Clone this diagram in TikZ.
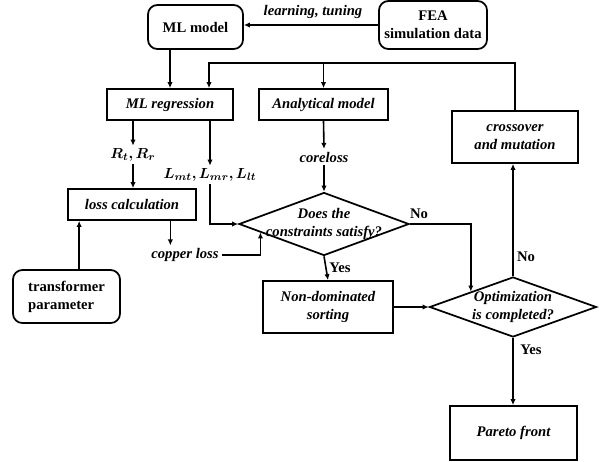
\documentclass[tikz,border=0pt]{standalone}
\usepackage{fontspec}
\setmainfont{Liberation Serif}
\usepackage{amsmath,bm}
\usepackage{tikz}
\usetikzlibrary{positioning, arrows.meta, shapes.geometric, calc}
\newcommand{\figsize}{\fontsize{11}{13.5}\selectfont}
\tikzset{
    box/.style={draw, rectangle, line width=1.3pt, font=\figsize\bfseries\itshape, align=center, inner sep=2pt},
    rbox/.style={box, rounded corners=7pt, font=\figsize\bfseries},
    dia/.style={draw, diamond, line width=1.3pt, inner sep=0pt},
    lbl/.style={font=\figsize\bfseries\itshape, inner sep=2pt},
    ans/.style={font=\figsize\bfseries, inner sep=1pt},
    conn/.style={-, line width=1.2pt},
    arr/.style={conn, -{Latex[length=4.5pt, width=4pt]}},
}

\begin{document}
\begin{tikzpicture}[x=0.75pt, y=-0.75pt]
        \useasboundingbox (0,0) rectangle (602,461);

        \node [rbox, minimum width=71.25pt, minimum height=33pt] (mlm) at (195.5,27) {ML model};
        \node [rbox, minimum width=81pt, minimum height=36pt] (fea) at (433,25) {FEA\\simulation data};
        \node [lbl] (lt) at (313,12) {learning, tuning};

        \node [box, minimum width=94.5pt, minimum height=23.25pt] (mlr) at (170,104.5) {ML regression};
        \node [box, minimum width=96.75pt, minimum height=23.25pt] (ana) at (323.5,104.5) {Analytical model};
        \node [box, minimum width=94.5pt, minimum height=39pt] (cross) at (515,137) {crossover\\and mutation};

        \node [lbl] (rr) at (133,155) {$\bm{R_t, R_r}$};
        \node [lbl] (lm) at (210,175) {$\bm{L_{mt}, L_{mr}, L_{lt}}$};
        \node [lbl] (core) at (324,157) {coreloss};

        \node [box, minimum width=96pt, minimum height=23.25pt] (loss) at (132,204.5) {loss calculation};
        \node [lbl] (cu) at (185,255) {copper loss};
        \node [rbox, align=left, minimum width=80.25pt, minimum height=39.75pt] (trans) at (66.5,296.5) {transformer\\parameter};

        \node [dia, minimum width=127.5pt, minimum height=47.25pt,
            label={[lbl, align=center]center:Does the\\constraints satisfy?}] (d1) at (324,224) {};
        \node [box, minimum width=97.5pt, minimum height=39pt] (nd) at (328,307) {Non-dominated\\sorting};
        \node [dia, minimum width=125.25pt, minimum height=45pt,
            label={[lbl, align=center]center:Optimization\\is completed?}] (d2) at (513,307) {};
        \node [box, minimum width=95.25pt, minimum height=40.5pt] (pf) at (513.5,433) {Pareto front};

        \node [ans] (no1) at (419,214) {No};
        \node [ans] (yes1) at (340,268) {Yes};
        \node [ans] (no2) at (526,257) {No};
        \node [ans] (yes2) at (531,350) {Yes};

        \coordinate (fbl) at (209,63);
        \coordinate (cuin) at ($(d1.west)!0.26!(d1.south)$);
        \coordinate (d2in) at ($(d2.west)!0.5!(d2.north)$);

        \draw [arr] (fea.west) -- (fea.west -| mlm.east);
        \draw [arr] (mlm.south -| mlr.north) -- (mlr.north);
        \draw [arr] (cross.north) |- (fbl) -- (fbl |- mlr.north);
        \draw [arr] (ana.north |- fbl) -- (ana.north);

        \draw [arr] (rr.north |- mlr.south) -- (rr.north);
        \draw [arr] (lm.north |- mlr.south) -- (lm.north);
        \draw [arr] (rr.south) -- (rr.south |- loss.north);
        \draw [arr] (lm.south) |- (d1.west);
        \draw [arr] ([xshift=9.5pt]trans.north) -- ([xshift=9.5pt]trans.north |- loss.south);
        \draw [arr] ([xshift=-11pt]cu.north |- loss.south) -- ([xshift=-11pt]cu.north);
        \draw [arr] (cu.east) -| (cuin);

        \draw [arr] (ana.south) -- (core.north);
        \draw [arr] (core.south) -- (d1.north);
        \draw [arr] (d1.south) -- (nd.north);
        \draw [arr] (d1.east) -| (d2in);
        \draw [arr] (nd.east) -- (d2.west);
        \draw [arr] (d2.north) -- (d2.north |- cross.south);
        \draw [arr] (d2.south) -- (d2.south |- pf.north);
    \end{tikzpicture}
\end{document}
